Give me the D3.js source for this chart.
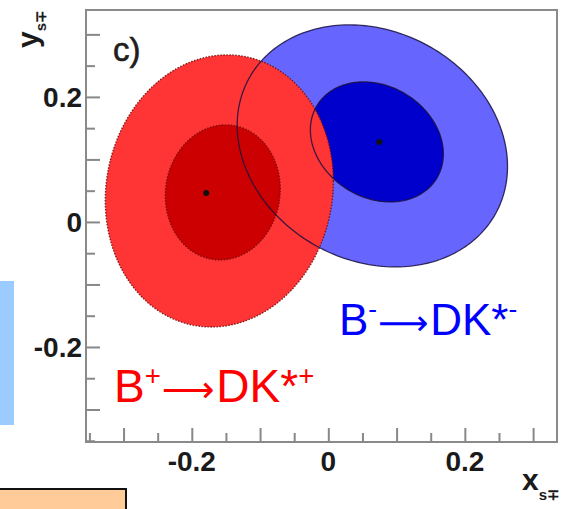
<!DOCTYPE html>
<html>
<head>
<meta charset="utf-8">
<script src="https://cdn.jsdelivr.net/npm/d3@7"></script>
<style>
  html, body { margin: 0; padding: 0; background: #fff; }
  svg { display: block; }
  text { font-family: "Liberation Sans", Arial, sans-serif; }
</style>
</head>
<body>
<svg id="chart" width="562" height="509"></svg>
<script>
// Axis ranges and labelled ticks
const xDomain = [-0.355, 0.335];
const yDomain = [-0.352, 0.339];
const xTickLabels = [-0.2, 0, 0.2];
const yTickLabels = [-0.2, 0, 0.2];
const minorStep = 0.05;

// Confidence contours (drawn in this order): centre, widths, correlation
const contourChannel = ["minus", "minus", "plus", "plus"];
const contourLevel   = ["outer", "inner", "outer", "inner"];
const contourCx  = [0.0645, 0.0711, -0.1597, -0.1546];
const contourCy  = [0.1216, 0.1280, 0.0496, 0.0472];
const contourSx  = [0.198, 0.0974, 0.167, 0.0842];
const contourSy  = [0.1936, 0.0960, 0.2176, 0.1080];
const contourRho = [-0.17, -0.20, 0.07, 0.05];

// Central values per channel
const channels = ["plus", "minus"];
const centralX = [-0.1788, 0.0747];
const centralY = [0.0464, 0.1280];

const fills = {
  minus: { outer: "#6666ff", inner: "#0000cc" },
  plus:  { outer: "#ff3535", inner: "#cc0000" }
};

const svg = d3.select("#chart");
const plot = { left: 86, right: 557, top: 10, bottom: 442 };

const x = d3.scaleLinear().domain(xDomain).range([plot.left, plot.right]);
const y = d3.scaleLinear().domain(yDomain).range([plot.bottom, plot.top]);

// Page decorations around the figure
svg.append("rect").attr("x", 0).attr("y", 281).attr("width", 14).attr("height", 144)
  .attr("fill", "#9ccbff");
svg.append("rect").attr("x", -2).attr("y", 489).attr("width", 128).attr("height", 30)
  .attr("fill", "#ffcc99").attr("stroke", "#111").attr("stroke-width", 2);

// Closed outline of a correlated 2D Gaussian contour
function contourPoints(i) {
  const n = 240, s = Math.sqrt(1 - contourRho[i] * contourRho[i]);
  return d3.range(n).map(k => {
    const t = 2 * Math.PI * k / n;
    return [contourCx[i] + contourSx[i] * Math.cos(t),
            contourCy[i] + contourSy[i] * (contourRho[i] * Math.cos(t) + s * Math.sin(t))];
  });
}
const line = d3.line().x(d => x(d[0])).y(d => y(d[1])).curve(d3.curveLinearClosed);

const clip = svg.append("clipPath").attr("id", "plotclip");
clip.append("rect").attr("x", plot.left).attr("y", plot.top)
  .attr("width", plot.right - plot.left).attr("height", plot.bottom - plot.top);

const g = svg.append("g").attr("clip-path", "url(#plotclip)");
const idx = d3.range(contourCx.length);

// Filled regions
g.selectAll("path.fill").data(idx).join("path")
  .attr("class", "fill")
  .attr("d", i => line(contourPoints(i)))
  .attr("fill", i => fills[contourChannel[i]][contourLevel[i]]);

// Outlines: red ones dotted, blue ones drawn on top
const outlineOrder = idx.filter(i => contourChannel[i] === "plus")
  .concat(idx.filter(i => contourChannel[i] === "minus"));
g.selectAll("path.edge").data(outlineOrder).join("path")
  .attr("class", "edge")
  .attr("d", i => line(contourPoints(i)))
  .attr("fill", "none")
  .attr("stroke", i => contourChannel[i] === "plus" ? "#6a0c0c" : "#1a1040")
  .attr("stroke-width", i => contourChannel[i] === "plus" ? 1.4 : 1.3)
  .attr("stroke-dasharray", i => contourChannel[i] === "plus" ? "1.5,1.5" : null)
  .attr("stroke-opacity", 0.85);

// Central values
g.selectAll("circle.best").data(channels.map((c, i) => i)).join("circle")
  .attr("class", "best")
  .attr("cx", i => x(centralX[i])).attr("cy", i => y(centralY[i]))
  .attr("r", 3).attr("fill", "#111");

// Frame
svg.append("rect").attr("x", plot.left).attr("y", plot.top)
  .attr("width", plot.right - plot.left).attr("height", plot.bottom - plot.top)
  .attr("fill", "none").attr("stroke", "#8a8a8a").attr("stroke-width", 2);

// Ticks (inside the frame)
const xMinor = d3.range(Math.ceil(xDomain[0] / minorStep), Math.floor(xDomain[1] / minorStep) + 1)
  .map(k => +(k * minorStep).toFixed(2));
const yMinor = d3.range(Math.ceil(yDomain[0] / minorStep), Math.floor(yDomain[1] / minorStep) + 1)
  .map(k => +(k * minorStep).toFixed(2));
const isMajor = v => Math.abs(v * 10 - Math.round(v * 10)) < 1e-6;

const xAxis = d3.axisBottom(x).tickValues(xMinor).tickSizeInner(0).tickSizeOuter(0).tickFormat("");
const xAx = svg.append("g").attr("transform", `translate(0,${plot.bottom})`).call(xAxis);
xAx.select(".domain").remove();
xAx.selectAll(".tick line")
  .attr("y2", d => isMajor(d) ? -14 : -9)
  .attr("stroke", "#888").attr("stroke-width", 2);

const yAxis = d3.axisLeft(y).tickValues(yMinor).tickSizeInner(0).tickSizeOuter(0).tickFormat("");
const yAx = svg.append("g").attr("transform", `translate(${plot.left},0)`).call(yAxis);
yAx.select(".domain").remove();
yAx.selectAll(".tick line")
  .attr("x2", d => isMajor(d) ? 14 : 9)
  .attr("stroke", "#888").attr("stroke-width", 2);

// Tick labels
const fmt = v => v === 0 ? "0" : d3.format(".1f")(v).replace("−", "-");
svg.append("g").selectAll("text").data(xTickLabels).join("text")
  .attr("x", d => x(d)).attr("y", 471)
  .attr("text-anchor", "middle")
  .attr("font-size", 28).attr("font-weight", "bold").attr("fill", "#1a1a1a")
  .text(fmt);
svg.append("g").selectAll("text").data(yTickLabels).join("text")
  .attr("x", 82).attr("y", d => y(d) + 10)
  .attr("text-anchor", "end")
  .attr("font-size", 28).attr("font-weight", "bold").attr("fill", "#1a1a1a")
  .text(fmt);

// Axis titles
const yt = svg.append("text").attr("transform", "translate(38,48) rotate(-90)")
  .attr("font-size", 30).attr("font-weight", "bold").attr("fill", "#1a1a1a");
yt.append("tspan").text("y");
yt.append("tspan").attr("font-size", 15).attr("dy", 8).text("s∓");

const xt = svg.append("text").attr("x", 522).attr("y", 490)
  .attr("font-size", 30).attr("font-weight", "bold").attr("fill", "#1a1a1a");
xt.append("tspan").text("x");
xt.append("tspan").attr("font-size", 15).attr("dy", 10).text("s∓");

// Panel tag
svg.append("text").attr("x", 113).attr("y", 61)
  .attr("font-size", 33).attr("fill", "#1e1e1e")
  .attr("stroke", "#1e1e1e").attr("stroke-width", 0.6).text("c)");

// Channel labels
function channelLabel(xp, yp, size, colour, sign) {
  const t = svg.append("text").attr("x", xp).attr("y", yp)
    .attr("font-size", size).attr("fill", colour);
  t.append("tspan").text("B");
  t.append("tspan").attr("font-size", size * 0.6).attr("dy", -size * 0.38).text(sign);
  t.append("tspan").attr("dy", size * 0.38).attr("dx", size * 0.02)
    .attr("font-family", "DejaVu Sans").attr("font-size", size * 0.8).text("⟶");
  t.append("tspan").attr("dx", size * 0.04).text("DK*");
  t.append("tspan").attr("font-size", size * 0.6).attr("dy", -size * 0.38).text(sign);
}
channelLabel(339, 335, 44, "#0000ff", "-");
channelLabel(114, 402, 46, "#ff0000", "+");
</script>
</body>
</html>
